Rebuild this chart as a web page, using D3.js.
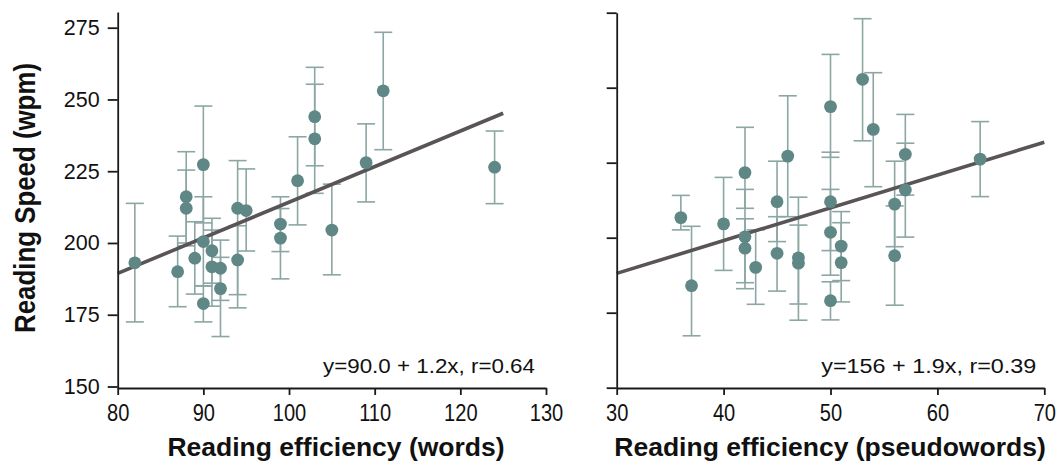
<!DOCTYPE html>
<html>
<head>
<meta charset="utf-8">
<script src="https://cdn.jsdelivr.net/npm/d3@7"></script>
<style>
  body { margin: 0; background: #fff; }
  text { font-family: "Liberation Sans", Arial, sans-serif; }
</style>
</head>
<body>
<svg width="1060" height="471"></svg>
<script>
// left panel: reading efficiency (words)
const wordsX  = [82, 87, 88, 88, 89, 90, 90, 90, 91, 91, 92, 92, 94, 94, 95, 99, 99, 101, 103, 103, 105, 109, 111, 124];
const wordsY  = [193.1, 190.0, 216.1, 212.1, 194.7, 227.3, 200.5, 178.9, 197.3, 191.7, 191.2, 184.1, 212.1, 194.1, 211.3, 206.6, 201.7, 221.7, 244.0, 236.3, 204.5, 228.0, 253.0, 226.4];
const wordsLo = [172.5, 177.8, 200.0, 199.0, 182.2, 207.0, 185.1, 172.5, 186.0, 178.0, 180.0, 167.4, 177.4, 182.0, 197.2, 197.0, 187.5, 206.3, 226.9, 217.3, 188.9, 214.3, 232.5, 213.7];
const wordsHi = [213.8, 202.4, 231.8, 225.4, 207.4, 247.7, 216.1, 185.0, 208.6, 204.5, 201.0, 195.0, 228.7, 206.0, 225.8, 216.1, 212.0, 237.0, 261.2, 255.3, 220.5, 241.5, 273.4, 239.0];
const wordsFitX = [80, 125];
const wordsFitY = [189.4, 245.2];

// right panel: reading efficiency (pseudowords)
const pseudoX  = [36, 37, 40, 42, 42, 42, 43, 45, 45, 46, 47, 47, 50, 50, 50, 50, 51, 51, 53, 54, 56, 56, 57, 57, 64];
const pseudoY  = [206.7, 184.0, 204.6, 221.7, 200.3, 196.5, 190.1, 212.0, 194.8, 227.2, 193.3, 191.5, 243.7, 212.0, 201.8, 179.0, 197.2, 191.7, 252.8, 236.1, 211.2, 194.0, 227.8, 215.9, 226.2];
const pseudoLo = [202.6, 167.3, 189.1, 209.8, 185.0, 183.0, 177.8, 198.7, 182.2, 207.0, 177.9, 172.5, 226.8, 195.7, 187.5, 172.6, 185.7, 178.6, 232.3, 217.0, 197.0, 177.5, 214.2, 200.2, 213.7];
const pseudoHi = [214.1, 203.8, 220.1, 236.8, 216.1, 206.3, 202.6, 225.5, 207.0, 247.3, 204.2, 213.5, 261.1, 228.5, 216.1, 185.3, 208.7, 205.0, 273.0, 255.0, 225.5, 210.6, 241.1, 231.5, 238.7];
const pseudoFitX = [30, 70];
const pseudoFitY = [188.1, 231.8];

const wordsTicks  = [80, 90, 100, 110, 120, 130];
const pseudoTicks = [30, 40, 50, 60, 70];
const speedTicks  = [150, 175, 200, 225, 250, 275];

const svg = d3.select("svg");
svg.append("rect").attr("width", 1060).attr("height", 471).attr("fill", "#fff");

const axisY = 388;
const ptCol = "#5f8785", barCol = "#8ba6a3", lineCol = "#595456", axCol = "#1a1a1a";

function panel(p) {
    const g = svg.append("g");

    // error bars
    const bars = g.append("g");
    p.x.forEach(function(v, i) {
        const cx = p.xs(v);
        bars.append("line").attr("x1", cx).attr("x2", cx)
            .attr("y1", p.ys(p.lo[i])).attr("y2", p.ys(p.hi[i]));
        [p.lo[i], p.hi[i]].forEach(function(e) {
            bars.append("line").attr("x1", cx - 9).attr("x2", cx + 9)
                .attr("y1", p.ys(e)).attr("y2", p.ys(e));
        });
    });
    bars.selectAll("line").attr("stroke", barCol).attr("stroke-width", 1.6);

    // regression line
    g.append("path")
        .datum(d3.zip(p.fitX, p.fitY))
        .attr("d", d3.line().x(d => p.xs(d[0])).y(d => p.ys(d[1])))
        .attr("stroke", lineCol).attr("stroke-width", 3.6).attr("fill", "none");

    // points
    g.append("g").selectAll("circle")
        .data(d3.zip(p.x, p.y))
        .join("circle")
        .attr("cx", d => p.xs(d[0]))
        .attr("cy", d => p.ys(d[1]))
        .attr("r", 6.4)
        .attr("fill", ptCol);

    // axes
    const ya = p.ys.copy().domain([p.ys.invert(axisY), p.ys.invert(p.top)]).range([axisY, p.top]);
    const gy = g.append("g")
        .attr("transform", "translate(" + p.xs.range()[0] + ",0)")
        .call(d3.axisLeft(ya).tickValues(speedTicks).tickSize(10).tickSizeOuter(0).tickPadding(8)
            .tickFormat(p.ylabels ? d3.format("d") : ""));
    gy.selectAll("text").attr("font-size", 21.5).attr("fill", "#111")
        .style("font-family", "'Liberation Sans', Arial, sans-serif");

    const gx = g.append("g")
        .attr("transform", "translate(0," + axisY + ")")
        .call(d3.axisBottom(p.xs).tickValues(p.ticks).tickSize(7).tickSizeOuter(0).tickPadding(9));
    gx.selectAll("text").attr("font-size", 24.5).attr("fill", "#111")
        .attr("transform", "scale(0.82,1)")
        .style("font-family", "'Liberation Sans', Arial, sans-serif");

    g.selectAll(".domain, .tick line").attr("stroke", axCol).attr("stroke-width", 1.8);

    // equation
    g.append("text")
        .attr("x", p.xs.range()[1] - p.eqPad).attr("y", 373)
        .attr("text-anchor", "end")
        .attr("font-size", 20)
        .attr("textLength", p.eqLen).attr("lengthAdjust", "spacingAndGlyphs")
        .attr("fill", "#111")
        .text(p.eq);

    // x title
    g.append("text")
        .attr("x", p.titleX).attr("y", 456)
        .attr("text-anchor", "middle")
        .attr("font-size", 26.5).attr("font-weight", "bold")
        .attr("fill", "#111")
        .text(p.title);
}

const xL = d3.scaleLinear().domain([80, 130]).range([117.7, 546]);
const yLs = d3.scaleLinear().domain([150, 275]).range([386.5, 27.7]);
const xR = d3.scaleLinear().domain([30, 70]).range([616.7, 1044.3]);
const yRs = d3.scaleLinear().domain([150, 275]).range([387.7, 12.7]);

panel({xs: xL, ys: yLs, top: 12, x: wordsX, y: wordsY, lo: wordsLo, hi: wordsHi,
       fitX: wordsFitX, fitY: wordsFitY, ticks: wordsTicks, ylabels: true,
       eq: "y=90.0 + 1.2x, r=0.64", eqLen: 212, eqPad: 11,
       title: "Reading efficiency (words)", titleX: 336});

panel({xs: xR, ys: yRs, top: 12.7, x: pseudoX, y: pseudoY, lo: pseudoLo, hi: pseudoHi,
       fitX: pseudoFitX, fitY: pseudoFitY, ticks: pseudoTicks, ylabels: false,
       eq: "y=156 + 1.9x, r=0.39", eqLen: 215, eqPad: 8,
       title: "Reading efficiency (pseudowords)", titleX: 830});

// y title
svg.append("text")
    .attr("transform", "translate(34.5,198) rotate(-90)")
    .attr("text-anchor", "middle")
    .attr("font-size", 30).attr("font-weight", "bold")
    .attr("textLength", 270).attr("lengthAdjust", "spacingAndGlyphs")
    .attr("fill", "#111")
    .text("Reading Speed (wpm)");
</script>
</body>
</html>
